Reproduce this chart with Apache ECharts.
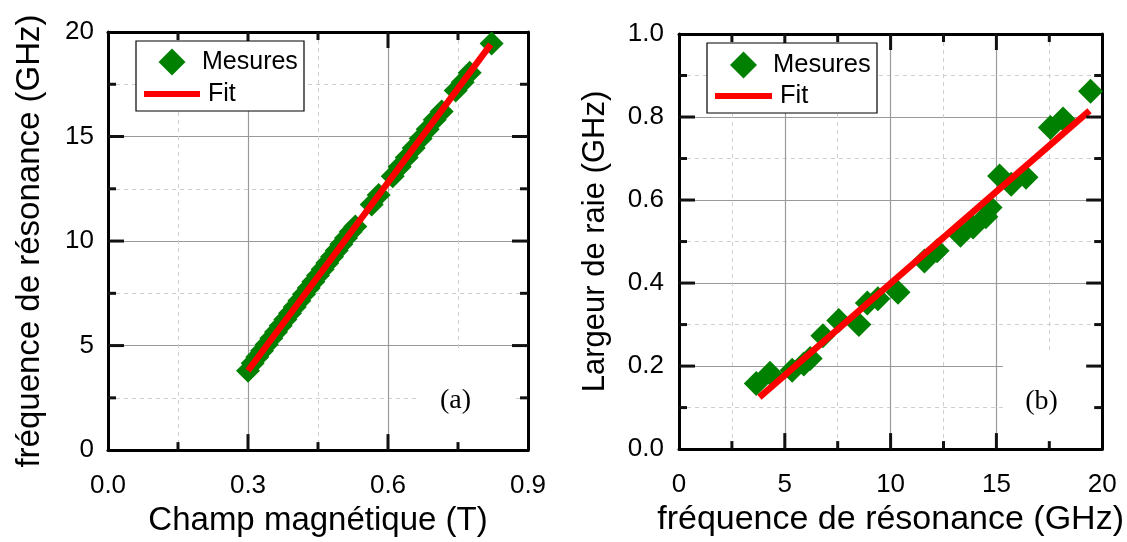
<!DOCTYPE html>
<html>
<head>
<meta charset="utf-8">
<script src="https://cdn.jsdelivr.net/npm/echarts@6/dist/echarts.min.js"></script>
<style>html,body{margin:0;padding:0;background:#fff;}#c{width:1127px;height:542px;}</style>
</head>
<body>
<div id="c"></div>
<script>
// Panel (a): resonance frequency vs magnetic field
const fieldT = [0.300,0.310,0.320,0.330,0.340,0.350,0.360,0.370,0.380,0.390,0.400,0.410,0.420,0.430,0.440,0.450,0.460,0.470,0.480,0.490,0.500,0.510,0.520,0.530,0.565,0.580,0.610,0.625,0.640,0.655,0.670,0.685,0.700,0.715,0.745,0.760,0.775,0.822];
const freqA  = [3.80,4.15,4.45,4.75,5.05,5.35,5.65,5.95,6.25,6.55,6.85,7.15,7.45,7.75,8.05,8.35,8.65,8.95,9.25,9.55,9.85,10.15,10.45,10.70,11.75,12.20,13.10,13.55,14.00,14.45,14.90,15.35,15.80,16.20,17.20,17.60,18.05,19.45];
const fitAx = [0.30, 0.82];
const fitAy = [3.80, 19.40];
// Panel (b): linewidth vs resonance frequency
const freqB  = [3.65,4.30,5.35,5.90,6.20,6.80,7.55,8.50,8.90,9.40,10.35,11.60,12.20,13.30,13.90,14.50,14.70,15.15,15.70,16.40,17.55,18.15,19.45];
const widthB = [0.158,0.183,0.190,0.205,0.218,0.273,0.310,0.300,0.352,0.362,0.378,0.453,0.478,0.515,0.535,0.560,0.582,0.658,0.638,0.655,0.775,0.795,0.862];
const fitBx = [3.80, 19.40];
const fitBy = [0.125, 0.815];
const legendLabels = ['Mesures', 'Fit'];
// Axis ranges and tick values (major / minor)
const rangeAx = [0, 0.9], rangeAy = [0, 20];
const rangeBx = [0, 20],  rangeBy = [0, 1.0];
const majorTicksAx = [0.3, 0.6];
const minorTicksAx = [0.15, 0.45, 0.75];
const majorTicksAy = [5, 10, 15];
const minorTicksAy = [2.5, 7.5, 12.5, 17.5];
const majorTicksBx = [5, 10, 15];
const minorTicksBx = [2.5, 7.5, 12.5, 17.5];
const majorTicksBy = [0.2, 0.4, 0.6, 0.8];
const minorTicksBy = [0.1, 0.3, 0.5, 0.7, 0.9];

const zip = (a, b) => a.map((v, i) => [v, b[i]]);
const FONT = 'Liberation Sans';
const GREEN = '#008000', RED = '#ff0000';
const MAJOR_LEN = 16, MINOR_LEN = 8;
const TICK_COLOR = '#111111';

function mainAxis(pos, grid, range, interval, fmt, name, nameGap, nameSize, labelMargin) {
  return {
    type: 'value', gridIndex: grid, position: pos, min: range[0], max: range[1], interval: interval,
    name: name, nameLocation: 'middle', nameGap: nameGap,
    nameTextStyle: {fontFamily: FONT, fontSize: nameSize, color: '#000'},
    axisLine: {show: true, onZero: false, lineStyle: {color: '#000', width: 3}},
    axisTick: {show: false}, minorTick: {show: false, splitNumber: 2},
    axisLabel: {show: true, fontFamily: FONT, fontSize: 26, color: '#000', margin: labelMargin, formatter: fmt},
    splitLine: {show: true, lineStyle: {color: '#9a9a9a', width: 1.2}},
    minorSplitLine: {show: true, lineStyle: {color: '#cfcfcf', width: 1, type: [4, 4]}}
  };
}
function mirrorAxis(pos, grid, range, interval) {
  return {
    type: 'value', gridIndex: grid, position: pos, min: range[0], max: range[1], interval: interval,
    axisLine: {show: true, onZero: false, lineStyle: {color: '#000', width: 3}},
    axisTick: {show: false}, minorTick: {show: false, splitNumber: 2},
    axisLabel: {show: false}, splitLine: {show: false}, minorSplitLine: {show: false}
  };
}
function legendBox(x, y, w, h, dx, dy, lineX1, lineX2, lineY, t1x, t2x, fs) {
  return [
    {type: 'rect', z: 30, shape: {x: x, y: y, width: w, height: h}, style: {fill: '#fff', stroke: '#000', lineWidth: 1.2}},
    {type: 'polygon', z: 31, shape: {points: [[dx - 13.5, dy], [dx, dy - 13.5], [dx + 13.5, dy], [dx, dy + 13.5]]}, style: {fill: GREEN}},
    {type: 'line', z: 31, shape: {x1: lineX1, y1: lineY, x2: lineX2, y2: lineY}, style: {stroke: RED, lineWidth: 6}},
    {type: 'text', z: 31, x: t1x, y: dy, style: {text: legendLabels[0], font: fs + 'px "Liberation Sans"', fill: '#000', align: 'left', verticalAlign: 'middle'}},
    {type: 'text', z: 31, x: t2x, y: lineY, style: {text: legendLabels[1], font: fs + 'px "Liberation Sans"', fill: '#000', align: 'left', verticalAlign: 'middle'}}
  ];
}

const baseGraphics = [
  {type: 'rect', z: 1, shape: {x: 418, y: 348, width: 94, height: 95}, style: {fill: '#fff'}},
  {type: 'rect', z: 1, shape: {x: 1003, y: 350, width: 89, height: 93}, style: {fill: '#fff'}},
  {type: 'text', z: 3, x: 455.5, y: 401, style: {text: '(a)', font: '28px "Liberation Serif"', fill: '#000', align: 'center', verticalAlign: 'middle'}},
  {type: 'text', z: 3, x: 1041.5, y: 402, style: {text: '(b)', font: '28px "Liberation Serif"', fill: '#000', align: 'center', verticalAlign: 'middle'}}
].concat(
  legendBox(136, 41, 168, 70, 172, 62, 144, 200, 94, 202, 208, 25),
  legendBox(707, 43, 170, 70, 743.5, 65, 715, 772, 96, 773, 780, 25.5)
);

const chart = echarts.init(document.getElementById('c'), null, {renderer: 'canvas'});
chart.setOption({
  animation: false,
  backgroundColor: '#fff',
  grid: [
    {left: 108, top: 32, width: 420, height: 419},
    {left: 679, top: 34, width: 426, height: 417}
  ],
  xAxis: [
    mainAxis('bottom', 0, rangeAx, 0.3, (v) => v.toFixed(1), 'Champ magnétique (T)', 51, 33, 23),
    mirrorAxis('top', 0, rangeAx, 0.3),
    mainAxis('bottom', 1, rangeBx, 5, null, 'fréquence de résonance (GHz)', 52, 34, 23),
    mirrorAxis('top', 1, rangeBx, 5)
  ],
  yAxis: [
    mainAxis('left', 0, rangeAy, 5, null, 'fréquence de résonance (GHz)', 62, 33, 14),
    mirrorAxis('right', 0, rangeAy, 5),
    mainAxis('left', 1, rangeBy, 0.2, (v) => v.toFixed(1), 'Largeur de raie (GHz)', 68, 31, 15),
    mirrorAxis('right', 1, rangeBy, 0.2)
  ],
  graphic: {elements: baseGraphics},
  series: [
    {name: 'Mesures', type: 'scatter', xAxisIndex: 0, yAxisIndex: 0, symbol: 'diamond', symbolSize: 24,
     itemStyle: {color: GREEN, opacity: 1}, data: zip(fieldT, freqA), z: 3},
    {name: 'Fit', type: 'line', xAxisIndex: 0, yAxisIndex: 0, symbol: 'none', showSymbol: false,
     lineStyle: {color: RED, width: 6.5}, itemStyle: {color: RED}, data: zip(fitAx, fitAy), z: 4},
    {name: 'Mesures', type: 'scatter', xAxisIndex: 2, yAxisIndex: 2, symbol: 'diamond', symbolSize: 25,
     itemStyle: {color: GREEN, opacity: 1}, data: zip(freqB, widthB), z: 3},
    {name: 'Fit', type: 'line', xAxisIndex: 2, yAxisIndex: 2, symbol: 'none', showSymbol: false,
     lineStyle: {color: RED, width: 6.5}, itemStyle: {color: RED}, data: zip(fitBx, fitBy), z: 4}
  ]
});

// Tick marks on all four sides, positioned through the chart's own axis scales
function tickMarks(xIdx, yIdx, xr, yr, dir, vals, len) {
  const out = [];
  vals.forEach(function (v) {
    const st = {stroke: TICK_COLOR, lineWidth: 3};
    if (dir === 'x') {
      const b = chart.convertToPixel({xAxisIndex: xIdx}, v);
      const t0 = chart.convertToPixel({yAxisIndex: yIdx}, yr[0]);
      const t1 = chart.convertToPixel({yAxisIndex: yIdx}, yr[1]);
      out.push({type: 'line', z: 20, shape: {x1: b, y1: t0, x2: b, y2: t0 - len}, style: st});
      out.push({type: 'line', z: 20, shape: {x1: b, y1: t1, x2: b, y2: t1 + len}, style: Object.assign({}, st)});
    } else {
      const p = chart.convertToPixel({yAxisIndex: yIdx}, v);
      const l = chart.convertToPixel({xAxisIndex: xIdx}, xr[0]);
      const r = chart.convertToPixel({xAxisIndex: xIdx}, xr[1]);
      out.push({type: 'line', z: 20, shape: {x1: l, y1: p, x2: l + len, y2: p}, style: st});
      out.push({type: 'line', z: 20, shape: {x1: r, y1: p, x2: r - len, y2: p}, style: Object.assign({}, st)});
    }
  });
  return out;
}
const tickGraphics = [].concat(
  tickMarks(0, 0, rangeAx, rangeAy, 'x', majorTicksAx, MAJOR_LEN),
  tickMarks(0, 0, rangeAx, rangeAy, 'x', minorTicksAx, MINOR_LEN),
  tickMarks(0, 0, rangeAx, rangeAy, 'y', majorTicksAy, MAJOR_LEN),
  tickMarks(0, 0, rangeAx, rangeAy, 'y', minorTicksAy, MINOR_LEN),
  tickMarks(2, 2, rangeBx, rangeBy, 'x', majorTicksBx, MAJOR_LEN),
  tickMarks(2, 2, rangeBx, rangeBy, 'x', minorTicksBx, MINOR_LEN),
  tickMarks(2, 2, rangeBx, rangeBy, 'y', majorTicksBy, MAJOR_LEN),
  tickMarks(2, 2, rangeBx, rangeBy, 'y', minorTicksBy, MINOR_LEN)
);
chart.setOption({graphic: {elements: baseGraphics.concat(tickGraphics)}});
</script>
</body>
</html>
